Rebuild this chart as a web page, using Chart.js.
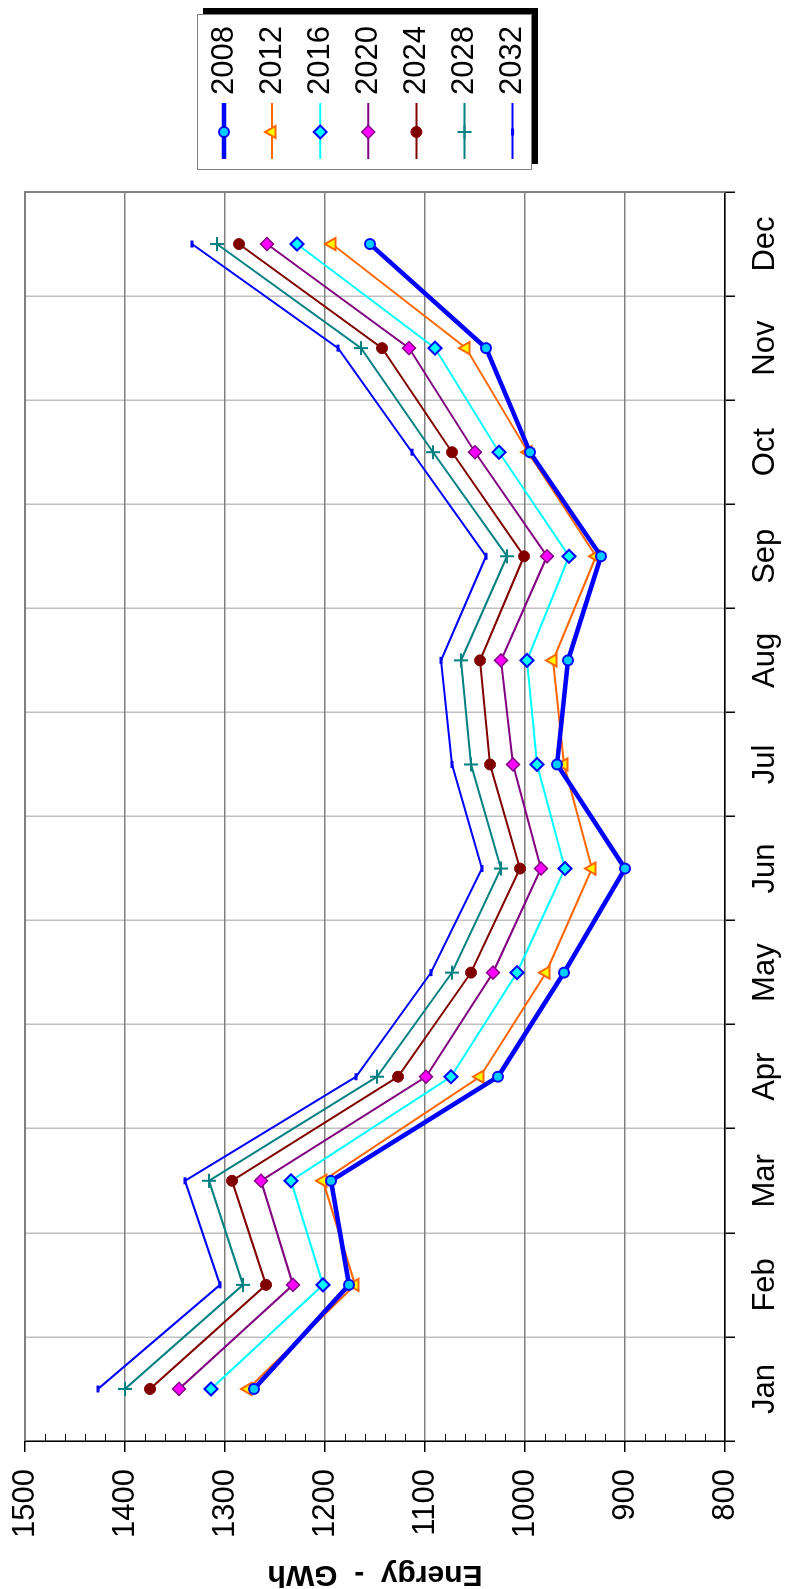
<!DOCTYPE html>
<html>
<head>
<meta charset="utf-8">
<script src="https://cdn.jsdelivr.net/npm/chart.js@4/dist/chart.umd.min.js"></script>
<style>
  html, body { margin: 0; padding: 0; background: #fff; overflow: hidden; }
  /* the chart is drawn landscape and turned a quarter turn to the left */
  #turn {
    position: absolute; left: 0; top: 0;
    width: 1589px; height: 786px;
    transform-origin: 0 0;
    transform: translateY(1589px) rotate(-90deg);
  }
</style>
</head>
<body>
<div id="turn"><canvas id="energy" width="1589" height="786"></canvas></div>
<script>
const months = ['Jan', 'Feb', 'Mar', 'Apr', 'May', 'Jun', 'Jul', 'Aug', 'Sep', 'Oct', 'Nov', 'Dec'];
const years = ['2008', '2012', '2016', '2020', '2024', '2028', '2032'];

const energy2008 = [1271, 1176, 1194, 1027, 961, 900, 968, 957, 924, 995, 1039, 1155];
const energy2012 = [1277, 1170, 1202, 1045, 979, 933, 961, 972, 929, 997, 1059, 1193];
const energy2016 = [1314, 1202, 1234, 1074, 1008, 960, 988, 998, 956, 1026, 1090, 1228];
const energy2020 = [1346, 1232, 1264, 1099, 1032, 984, 1012, 1024, 978, 1050, 1116, 1258];
const energy2024 = [1375, 1259, 1293, 1127, 1054, 1005, 1035, 1045, 1001, 1073, 1143, 1286];
const energy2028 = [1400, 1282, 1316, 1148, 1073, 1024, 1054, 1064, 1018, 1092, 1164, 1308];
const energy2032 = [1427, 1305, 1340, 1169, 1094, 1043, 1073, 1084, 1039, 1113, 1187, 1333];

const yMin = 800;
const yMax = 1500;
const yStep = 100;
const yMinorStep = 20;
const yTitle = 'Energy  -  GWh';

const FONT = "'Liberation Sans', Arial, sans-serif";

function series(label, data, line, width, style, radius, fill, edge, edgeWidth) {
  return {
    label,
    data,
    borderColor: line,
    backgroundColor: line,
    borderWidth: width,
    pointStyle: style,
    pointRadius: radius,
    pointHoverRadius: radius,
    pointBackgroundColor: fill,
    pointBorderColor: edge,
    pointBorderWidth: edgeWidth,
    tension: 0,
  };
}

const datasets = [
  series(years[0], energy2008, '#0000ff', 4.5, 'circle', 5, '#00ccff', '#0000ff', 2),
  series(years[1], energy2012, '#ff6600', 2, 'triangle', 7, '#ffff00', '#ff6600', 2),
  series(years[2], energy2016, '#00ffff', 2, 'rectRot', 6.5, '#00ffff', '#0000ff', 2),
  series(years[3], energy2020, '#800080', 2, 'rectRot', 6.5, '#ff00ff', '#800080', 1.5),
  series(years[4], energy2024, '#800000', 2, 'circle', 5.5, '#800000', '#800000', 1),
  series(years[5], energy2028, '#008080', 2, 'cross', 7, '#008080', '#008080', 2),
  series(years[6], energy2032, '#0000ff', 2, 'line', 3.5, '#0000ff', '#0000ff', 3),
];

// plot frame, minor ticks on the value axis
const frame = {
  id: 'frame',
  beforeDatasetsDraw(chart) {
    const { ctx, chartArea: a } = chart;
    ctx.save();
    ctx.strokeStyle = '#808080';
    ctx.lineWidth = 2;
    ctx.beginPath();
    ctx.moveTo(a.left, a.top);
    ctx.lineTo(a.right, a.top);
    ctx.lineTo(a.right, a.bottom);
    ctx.stroke();

    const y = chart.scales.y;
    ctx.strokeStyle = '#000';
    ctx.lineWidth = 1;
    ctx.beginPath();
    for (let v = yMin + yMinorStep; v < yMax; v += yMinorStep) {
      if (v % yStep === 0) continue;
      const py = Math.round(y.getPixelForValue(v)) + 0.5;
      ctx.moveTo(a.left, py);
      ctx.lineTo(a.left + 7, py);
    }
    ctx.stroke();
    ctx.restore();
  },
};

// legend box with drop shadow, right of the plot
const boxLegend = {
  id: 'boxLegend',
  afterDraw(chart) {
    const ctx = chart.ctx;
    const left = 1419, top = 197, w = 156, h = 335;
    ctx.save();
    ctx.fillStyle = '#000';
    ctx.fillRect(left + 6, top + 6, w, h);
    ctx.fillStyle = '#fff';
    ctx.fillRect(left, top, w, h);
    ctx.strokeStyle = '#808080';
    ctx.lineWidth = 1;
    ctx.strokeRect(left + 0.5, top + 0.5, w - 1, h - 1);

    chart.data.datasets.forEach((ds, i) => {
      const cy = 224 + i * 48.1;
      ctx.strokeStyle = ds.borderColor;
      ctx.lineWidth = ds.borderWidth;
      ctx.beginPath();
      ctx.moveTo(1430, cy);
      ctx.lineTo(1486, cy);
      ctx.stroke();

      ctx.fillStyle = ds.pointBackgroundColor;
      ctx.strokeStyle = ds.pointBorderColor;
      ctx.lineWidth = ds.pointBorderWidth;
      Chart.helpers.drawPoint(ctx, {
        pointStyle: ds.pointStyle,
        radius: ds.pointRadius,
        borderWidth: ds.pointBorderWidth,
        rotation: 0,
      }, 1457, cy);

      ctx.fillStyle = '#000';
      ctx.font = '31px ' + FONT;
      ctx.textAlign = 'left';
      ctx.textBaseline = 'middle';
      ctx.fillText(ds.label, 1494, cy);
    });
    ctx.restore();
  },
};

new Chart(document.getElementById('energy'), {
  type: 'line',
  data: { labels: months, datasets },
  plugins: [frame, boxLegend],
  options: {
    responsive: false,
    animation: false,
    devicePixelRatio: 1,
    layout: { padding: { top: 25, right: 192, bottom: 0, left: 0 } },
    plugins: {
      legend: { display: false },
      tooltip: { enabled: false },
    },
    scales: {
      x: {
        type: 'category',
        offset: true,
        grid: {
          offset: true,
          color: '#c0c0c0',
          lineWidth: 1.5,
          tickColor: '#000',
          tickLength: 10,
        },
        border: { color: '#000', width: 1.5 },
        ticks: {
          color: '#000',
          padding: 12,
          maxRotation: 0,
          font: { family: FONT, size: 31 },
        },
        afterFit(scale) { scale.height = 61; },
      },
      y: {
        min: yMin,
        max: yMax,
        grid: {
          color: '#808080',
          lineWidth: 1.5,
          tickColor: '#000',
          tickLength: 11,
        },
        border: { color: '#000', width: 1.5 },
        ticks: {
          stepSize: yStep,
          color: '#000',
          padding: 17,
          font: { family: FONT, size: 31 },
          callback: (value) => String(value),
        },
        title: {
          display: true,
          text: yTitle,
          color: '#000',
          padding: 0,
          font: { family: FONT, size: 30, weight: 'bold', lineHeight: 1 },
        },
        afterFit(scale) {
          scale.width = 148;
          scale.paddingTop = 0;
          scale.paddingBottom = 0;
        },
      },
    },
  },
});
</script>
</body>
</html>
